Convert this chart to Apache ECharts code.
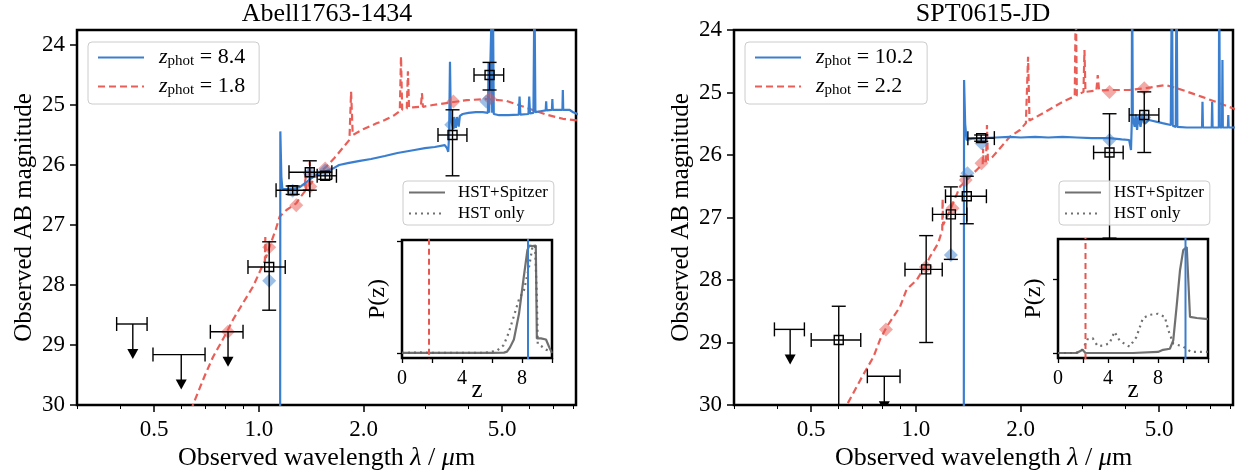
<!DOCTYPE html>
<html><head><meta charset="utf-8">
<script src="https://cdn.jsdelivr.net/npm/echarts@6/dist/echarts.min.js"></script>
<style>html,body{margin:0;padding:0;background:#fff}#c{width:1242px;height:476px}</style>
</head><body><div id="c"></div>
<script>
// ---------------- DATA ----------------
const titleA = 'Abell1763-1434';
const titleB = 'SPT0615-JD';
const zPrimA = 8.4, zAltA = 1.8;
const zPrimB = 10.2, zAltB = 2.2;
const xTickLabels = [0.5, 1.0, 2.0, 5.0];
const xMinorTicks = [0.3, 0.4, 0.6, 0.7, 0.8, 0.9, 3, 4, 6, 7, 8];
const yTickLabels = [24, 25, 26, 27, 28, 29, 30];

// SED templates: [wavelength (um), AB mag]
const sedBlueA = [[1.140,33],[1.150,32],[1.152,25.44],[1.160,26.2],[1.168,26.40],[1.20,26.40],[1.25,26.40],[1.31,26.37],[1.36,26.30],[1.40,26.24],[1.45,26.18],[1.50,26.14],[1.55,26.11],[1.63,26.06],[1.70,26.00],[1.80,25.97],[1.95,25.93],[2.1,25.90],[2.3,25.85],[2.5,25.80],[2.8,25.75],[3.0,25.72],[3.2,25.70],[3.42,25.67],[3.47,25.72],[3.50,25.78],[3.52,25.5],[3.54,24.28],[3.56,25.25],[3.58,25.22],[3.62,25.40],[3.64,25.20],[3.68,25.38],[3.71,25.20],[3.75,25.36],[3.78,25.18],[3.85,25.15],[4.0,25.13],[4.2,25.12],[4.4,25.12],[4.55,25.13],[4.57,24.3],[4.59,25.13],[4.64,25.13],[4.66,23.5],[4.68,25.13],[4.70,23.0],[4.73,25.15],[4.9,25.17],[5.2,25.17],[5.58,25.16],[5.61,24.86],[5.64,25.16],[5.95,25.15],[5.98,24.86],[6.01,25.14],[6.15,25.13],[6.19,23.0],[6.23,25.12],[6.5,25.10],[6.67,25.09],[6.69,24.94],[6.71,25.09],[6.95,25.08],[6.97,24.9],[6.99,25.08],[7.45,25.08],[7.47,24.75],[7.49,25.08],[7.8,25.08],[8.0,25.12],[8.3,25.16]];
const sedRedA = [[0.60,31],[0.646,30.0],[0.70,29.5],[0.738,29.2],[0.78,28.95],[0.806,28.8],[0.842,28.58],[0.90,28.3],[0.961,28.03],[1.02,27.7],[1.040,27.6],[1.043,27.2],[1.047,27.55],[1.073,27.36],[1.117,27.08],[1.147,26.86],[1.20,26.75],[1.28,26.64],[1.31,26.55],[1.355,26.44],[1.36,26.15],[1.365,26.42],[1.39,26.36],[1.40,25.95],[1.41,26.32],[1.43,26.25],[1.50,26.12],[1.56,26.03],[1.65,25.88],[1.75,25.70],[1.82,25.58],[1.84,24.78],[1.86,25.5],[1.88,25.47],[2.0,25.4],[2.17,25.31],[2.3,25.25],[2.45,25.17],[2.54,25.1],[2.56,24.19],[2.58,25.08],[2.66,25.06],[2.68,24.44],[2.70,25.05],[2.77,25.04],[2.92,25.03],[2.94,24.8],[2.96,25.03],[3.16,25.0],[3.53,24.96],[3.95,24.92],[4.5,24.9],[5.13,24.93],[5.7,25.02],[6.69,25.16],[7.47,25.23],[8.3,25.26]];
const sedBlueB = [[1.36,33],[1.372,32],[1.375,24.8],[1.385,25.5],[1.398,25.76],[1.45,25.74],[1.55,25.73],[1.7,25.72],[1.86,25.71],[2.0,25.72],[2.2,25.71],[2.4,25.72],[2.64,25.71],[2.9,25.72],[3.2,25.73],[3.6,25.73],[3.9,25.75],[4.1,25.76],[4.15,25.92],[4.17,25.5],[4.18,23.0],[4.20,25.4],[4.25,25.55],[4.28,25.35],[4.32,25.6],[4.36,25.38],[4.42,25.55],[4.47,25.38],[4.55,25.5],[4.67,25.44],[5.11,25.49],[5.4,25.52],[5.44,23.0],[5.47,25.53],[5.58,25.55],[5.61,23.0],[5.64,25.55],[6.0,25.56],[6.64,25.56],[6.66,25.15],[6.68,25.56],[7.08,25.56],[7.1,25.15],[7.12,25.56],[7.42,25.56],[7.44,23.0],[7.47,25.56],[7.58,25.56],[7.6,24.48],[7.62,25.56],[7.88,25.56],[7.9,25.36],[7.92,25.56],[8.3,25.56]];
const sedRedB = [[0.58,31],[0.633,30.0],[0.70,29.55],[0.755,29.23],[0.789,28.95],[0.824,28.75],[0.9,28.43],[0.94,28.15],[1.005,28.0],[1.068,27.76],[1.097,27.63],[1.159,27.41],[1.19,27.2],[1.193,26.7],[1.197,27.12],[1.21,27.09],[1.25,26.9],[1.337,26.51],[1.428,26.35],[1.525,26.19],[1.555,26.15],[1.56,25.9],[1.565,26.14],[1.59,26.1],[1.60,25.52],[1.61,26.08],[1.66,26.03],[1.86,25.71],[1.99,25.6],[2.07,25.49],[2.10,24.43],[2.12,25.45],[2.32,25.33],[2.64,25.15],[2.86,25.06],[2.88,23.5],[2.90,25.05],[3.03,24.99],[3.05,24.32],[3.07,24.99],[3.30,24.97],[3.33,24.72],[3.36,24.97],[3.6,24.96],[4.1,24.96],[4.58,24.93],[5.23,24.88],[5.83,24.96],[6.64,25.07],[7.44,25.17],[8.3,25.27]];

// detections: [lambda, mag, lambdaLo, lambdaHi, magBright, magFaint]
const detA = [[1.07,27.70,0.93,1.19,27.28,28.42],[1.25,26.42,1.12,1.40,26.35,26.49],[1.40,26.12,1.22,1.62,25.93,26.42],[1.55,26.18,1.47,1.67,26.12,26.24],[3.60,25.50,3.27,3.96,25.08,26.18],[4.60,24.50,4.15,5.05,24.29,24.75]];
const detB = [[0.60,28.96,0.50,0.694,28.42,31],[1.07,27.83,0.93,1.19,27.29,29.0],[1.26,26.95,1.116,1.40,26.51,27.67],[1.40,26.66,1.216,1.594,26.34,27.10],[1.54,25.73,1.41,1.68,25.68,25.78],[3.60,25.96,3.24,3.94,25.34,27.33],[4.53,25.36,4.10,4.99,24.99,25.96]];
// upper limits: [lambda, mag, lambdaLo, lambdaHi]
const limA = [[0.434,28.65,0.39,0.477],[0.598,29.16,0.496,0.70],[0.815,28.78,0.725,0.90]];
const limB = [[0.435,28.79,0.392,0.478],[0.811,29.54,0.725,0.90]];
// model photometry: [lambda, mag]
const modRedA = [[0.815,28.78],[1.07,27.37],[1.28,26.67],[1.405,26.36],[1.55,26.06],[3.62,24.94],[4.6,24.89]];
const modBlueA = [[1.07,27.93],[1.25,26.43],[1.40,26.14],[1.55,26.09],[3.57,25.33],[4.5,24.94]];
const modRedB = [[0.82,28.79],[1.068,27.79],[1.274,26.85],[1.39,26.40],[1.543,26.13],[3.6,24.99],[4.53,24.93]];
const modBlueB = [[1.26,27.6],[1.406,26.29],[1.543,25.81],[3.6,25.76],[4.53,25.40]];

// P(z): [z, P]
const pzSolidA = [[0,0],[2,0],[4,0],[6,0],[6.8,0.003],[7.0,0.012],[7.2,0.05],[7.46,0.12],[7.8,0.35],[8.09,0.65],[8.36,0.92],[8.49,0.96],[8.7,0.955],[8.92,0.96],[8.99,0.13],[9.26,0.13],[9.6,0.12],[9.82,0.05],[10,0.0]];
const pzDotA = [[0,0],[1.2,0.005],[2,0],[4,0],[5.5,0.002],[5.9,0.01],[6.33,0.02],[6.78,0.07],[7.11,0.18],[7.46,0.33],[7.8,0.48],[8.13,0.56],[8.47,0.77],[8.7,0.95],[8.87,0.96],[8.99,0.5],[9.05,0.08],[9.3,0.06],[9.6,0.03],[10,0.01]];
const pzSolidB = [[0,0],[1.5,0],[1.96,0.03],[2.2,0],[4,0],[6,0],[8,0.01],[8.41,0.03],[8.95,0.04],[9.22,0.12],[9.49,0.44],[9.76,0.78],[10.02,0.97],[10.3,1.0],[10.46,1.0],[10.56,0.34],[11.1,0.33],[12,0.32]];
const pzDotB = [[0,0],[1.42,0],[1.96,0.03],[2.37,0.13],[2.77,0.14],[3.17,0.066],[3.57,0.07],[4.11,0.09],[4.52,0.2],[4.92,0.12],[5.46,0.075],[5.73,0.06],[6.27,0.15],[6.8,0.33],[7.34,0.36],[8.0,0.37],[8.55,0.34],[8.81,0.22],[9.22,0.09],[10.02,0.06],[10.65,0.01],[12,0.01]];
const pzTicksA = [0, 1.0];
const pzTicksB = [0, 0.7];

// ---------------- STYLE ----------------
const FONT = '"Liberation Serif","DejaVu Serif",serif';
const BLUE = '#3a7fcf', RED = '#e8564f', GRAY = '#606060';
const lg = v => Math.log10(v);
const XMIN = lg(0.3), XMAX = lg(8.15);

function errRender(params, api) {
  const c = api.coord([api.value(0), api.value(1)]);
  const xl = api.coord([api.value(2), api.value(1)])[0];
  const xh = api.coord([api.value(3), api.value(1)])[0];
  const yt = api.coord([api.value(0), api.value(4)])[1];
  const yb = api.coord([api.value(0), api.value(5)])[1];
  const cap = 7, sq = 4.5;
  const st = {stroke: '#000', lineWidth: 1.4, fill: null};
  const L = (x1, y1, x2, y2) => ({type: 'line', shape: {x1, y1, x2, y2}, style: st});
  return {type: 'group', children: [
    L(xl, c[1], xh, c[1]), L(xl, c[1] - cap, xl, c[1] + cap), L(xh, c[1] - cap, xh, c[1] + cap),
    L(c[0], yt, c[0], yb), L(c[0] - cap, yt, c[0] + cap, yt), L(c[0] - cap, yb, c[0] + cap, yb),
    {type: 'rect', shape: {x: c[0] - sq, y: c[1] - sq, width: 2 * sq, height: 2 * sq},
     style: {stroke: '#000', lineWidth: 1.4, fill: 'rgba(0,0,0,0)'}}
  ]};
}
function limRender(params, api) {
  const c = api.coord([api.value(0), api.value(1)]);
  const xl = api.coord([api.value(2), api.value(1)])[0];
  const xh = api.coord([api.value(3), api.value(1)])[0];
  const cap = 7, len = 35;
  const st = {stroke: '#000', lineWidth: 1.4, fill: null};
  const L = (x1, y1, x2, y2) => ({type: 'line', shape: {x1, y1, x2, y2}, style: st});
  const tip = c[1] + len;
  return {type: 'group', children: [
    L(xl, c[1], xh, c[1]), L(xl, c[1] - cap, xl, c[1] + cap), L(xh, c[1] - cap, xh, c[1] + cap),
    L(c[0], c[1], c[0], tip - 6),
    {type: 'polygon', shape: {points: [[c[0] - 5.5, tip - 10], [c[0] + 5.5, tip - 10], [c[0], tip]]},
     style: {fill: '#000'}}
  ]};
}

function sed(name, data, color, dashed, xi, yi, z) {
  return {type: 'line', name, xAxisIndex: xi, yAxisIndex: yi, z,
    data: data.map(d => [lg(d[0]), d[1]]), showSymbol: false, symbol: 'none', clip: true,
    lineStyle: {color, width: 2.2, type: dashed ? [7, 4] : 'solid', opacity: dashed ? 0.95 : 1},
    itemStyle: {color}, silent: true, animation: false};
}
function diam(data, color, xi, yi) {
  return {type: 'scatter', xAxisIndex: xi, yAxisIndex: yi, z: 4, symbol: 'diamond', symbolSize: 14,
    data: data.map(d => [lg(d[0]), d[1]]), itemStyle: {color, opacity: 0.5}, silent: true, animation: false, clip: true};
}
function custom(data, render, xi, yi, isDet) {
  return {type: 'custom', xAxisIndex: xi, yAxisIndex: yi, z: 5, clip: true, silent: true, animation: false,
    data: data.map(d => isDet ? [lg(d[0]), d[1], lg(d[2]), lg(d[3]), d[4], d[5]] : [lg(d[0]), d[1], lg(d[2]), lg(d[3])]),
    renderItem: render};
}
function pz(name, data, dotted, xi, yi) {
  return {type: 'line', name, xAxisIndex: xi, yAxisIndex: yi, z: 7, data, showSymbol: false, symbol: 'none',
    lineStyle: {color: GRAY, width: 2.2, type: dotted ? [2, 4] : 'solid', opacity: 0.9},
    itemStyle: {color: GRAY}, silent: true, animation: false};
}
function vline(z, color, dashed, xi, yi) {
  return {type: 'line', xAxisIndex: xi, yAxisIndex: yi, z: 7, data: [[z, -1], [z, 2]], showSymbol: false, symbol: 'none', clip: true,
    lineStyle: {color, width: 2, type: dashed ? [6, 4] : 'solid'}, silent: true, animation: false};
}
// invisible anchor so the minor-tick axis is bound to a series
function anchor(xi, yi) {
  return {type: 'line', xAxisIndex: xi, yAxisIndex: yi, data: [[XMIN, 40]], showSymbol: false, symbol: 'none',
    lineStyle: {opacity: 0}, silent: true, animation: false};
}

function mainX(gi, name) {
  return [{
    type: 'value', gridIndex: gi, min: XMIN, max: XMAX, position: 'bottom',
    axisLine: {show: false, onZero: false}, splitLine: {show: false},
    axisTick: {show: true, length: 7, lineStyle: {color: '#000', width: 1.5}, customValues: xTickLabels.map(lg)},
    axisLabel: {customValues: xTickLabels.map(lg), formatter: v => Math.pow(10, v).toFixed(1),
      fontFamily: FONT, fontSize: 23, color: '#000', margin: 13},
    name, nameLocation: 'middle', nameGap: 40, nameMoveOverlap: false,
    nameTextStyle: {fontFamily: FONT, fontSize: 26, color: '#000',
      rich: {i: {fontFamily: FONT, fontStyle: 'italic', fontSize: 26, color: '#000'}}}
  }, {
    type: 'value', gridIndex: gi, min: XMIN, max: XMAX, position: 'bottom', offset: 0, show: true,
    axisLine: {show: true, onZero: false, lineStyle: {color: 'rgba(0,0,0,0)'}}, splitLine: {show: false},
    axisLabel: {show: false},
    axisTick: {show: true, length: 4, lineStyle: {color: '#000', width: 1}, customValues: xMinorTicks.map(lg)}
  }];
}
function mainY(gi, min) {
  return {
    type: 'value', gridIndex: gi, inverse: true, min, max: 30,
    axisLine: {show: false, onZero: false}, splitLine: {show: false},
    axisTick: {show: true, length: 7, lineStyle: {color: '#000', width: 1.5}, customValues: yTickLabels},
    axisLabel: {customValues: yTickLabels, fontFamily: FONT, fontSize: 23, color: '#000', margin: 12},
    name: 'Observed AB magnitude', nameLocation: 'middle', nameGap: 40, nameMoveOverlap: false,
    nameTextStyle: {fontFamily: FONT, fontSize: 25, color: '#000'}
  };
}
function insetX(gi, max) {
  return {type: 'value', gridIndex: gi, min: 0, max, interval: 2, z: 6,
    axisLine: {show: false, onZero: false}, splitLine: {show: false},
    axisTick: {show: true, length: 5, lineStyle: {color: '#000', width: 1.3}},
    axisLabel: {formatter: v => (v % 4 === 0 && v <= 8) ? String(v) : '', fontFamily: FONT, fontSize: 20, color: '#000', margin: 11},
    name: 'z', nameLocation: 'middle', nameGap: 20, nameMoveOverlap: false,
    nameTextStyle: {fontFamily: FONT, fontSize: 25, color: '#000'}};
}
function insetY(gi, min, max, ticks) {
  return {type: 'value', gridIndex: gi, min, max, z: 6,
    axisLine: {show: false, onZero: false}, splitLine: {show: false},
    axisTick: {show: true, length: 5, lineStyle: {color: '#000', width: 1.3}, customValues: ticks},
    axisLabel: {show: false},
    name: 'P(z)', nameLocation: 'middle', nameGap: 12, nameMoveOverlap: false,
    nameTextStyle: {fontFamily: FONT, fontSize: 24, color: '#000'}};
}

const zLabels = {A_prim: zPrimA, A_alt: zAltA, B_prim: zPrimB, B_alt: zAltB};
function mainLegend(left, names) {
  return {left, top: 42, orient: 'vertical', itemWidth: 46, itemHeight: 14, itemGap: 6, selectedMode: false,
    backgroundColor: 'rgba(255,255,255,0.8)', borderColor: '#cccccc', borderWidth: 1, borderRadius: 4,
    padding: [4, 14, 6, 9], data: names, itemStyle: {opacity: 0},
    formatter: n => '{i|z}{s|phot}{n| = ' + zLabels[n].toFixed(1) + '}',
    textStyle: {fontFamily: FONT, fontSize: 22, color: '#000', rich: {
      i: {fontFamily: FONT, fontStyle: 'italic', fontSize: 22, color: '#000', lineHeight: 26, padding: [0, 0, 0, 10]},
      s: {fontFamily: FONT, fontSize: 15, color: '#000', lineHeight: 20, padding: [8, 0, 0, 0]},
      n: {fontFamily: FONT, fontSize: 22, color: '#000', lineHeight: 26}
    }}};
}
function insetLegend(left) {
  return {left, top: 181, orient: 'vertical', itemWidth: 36, itemHeight: 12, itemGap: 4, selectedMode: false,
    backgroundColor: 'rgba(255,255,255,0.8)', borderColor: '#cccccc', borderWidth: 1, borderRadius: 4,
    padding: [3, 6, 3, 5], data: ['HST+Spitzer', 'HST only'], z: 8, itemStyle: {opacity: 0},
    formatter: n => '{t|' + n + '}',
    textStyle: {fontFamily: FONT, fontSize: 17, color: '#000',
      rich: {t: {fontFamily: FONT, fontSize: 17, color: '#000', lineHeight: 20, padding: [0, 0, 0, 8]}}}};
}

const xName = 'Observed wavelength {i|λ} / {i|μ}m';
const option = {
  backgroundColor: '#fff',
  animation: false,
  title: [
    {text: titleA, left: 327, top: 1, textAlign: 'center', padding: 0, textStyle: {fontFamily: FONT, fontSize: 26, fontWeight: 'normal', color: '#000'}},
    {text: titleB, left: 983, top: 1, textAlign: 'center', padding: 0, textStyle: {fontFamily: FONT, fontSize: 26, fontWeight: 'normal', color: '#000'}}
  ],
  grid: [
    {left: 77, top: 30, width: 499, height: 375, show: true, borderColor: '#000', borderWidth: 2.5, backgroundColor: 'transparent'},
    {left: 734, top: 30, width: 499, height: 375, show: true, borderColor: '#000', borderWidth: 2.5, backgroundColor: 'transparent'},
    {left: 402, top: 240, width: 150, height: 118, show: true, borderColor: '#000', borderWidth: 2.5, backgroundColor: '#fff', z: 5},
    {left: 1058, top: 239, width: 150, height: 119, show: true, borderColor: '#000', borderWidth: 2.5, backgroundColor: '#fff', z: 5}
  ],
  xAxis: [...mainX(0, xName), ...mainX(1, xName), insetX(2, 10), insetX(3, 12)],
  yAxis: [mainY(0, 23.75), mainY(1, 24), insetY(2, -0.045, 1.01, pzTicksA), insetY(3, -0.047, 1.075, pzTicksB)],
  legend: [mainLegend(88, ['A_prim', 'A_alt']), mainLegend(745, ['B_prim', 'B_alt']), insetLegend(403), insetLegend(1059)],
  series: [
    anchor(1, 0), anchor(3, 1),
    sed('A_alt', sedRedA, RED, true, 0, 0, 2),
    sed('A_prim', sedBlueA, BLUE, false, 0, 0, 3),
    diam(modRedA, RED, 0, 0), diam(modBlueA, BLUE, 0, 0),
    custom(limA, limRender, 0, 0, false), custom(detA, errRender, 0, 0, true),
    sed('B_alt', sedRedB, RED, true, 2, 1, 2),
    sed('B_prim', sedBlueB, BLUE, false, 2, 1, 3),
    diam(modRedB, RED, 2, 1), diam(modBlueB, BLUE, 2, 1),
    custom(limB, limRender, 2, 1, false), custom(detB, errRender, 2, 1, true),
    pz('HST+Spitzer', pzSolidA, false, 4, 2), pz('HST only', pzDotA, true, 4, 2),
    vline(zAltA, RED, true, 4, 2), vline(zPrimA, BLUE, false, 4, 2),
    pz('HST+Spitzer', pzSolidB, false, 5, 3), pz('HST only', pzDotB, true, 5, 3),
    vline(zAltB, RED, true, 5, 3), vline(zPrimB, BLUE, false, 5, 3)
  ]
};
const chart = echarts.init(document.getElementById('c'), null, {renderer: 'canvas'});
chart.setOption(option);
</script>
</body></html>
